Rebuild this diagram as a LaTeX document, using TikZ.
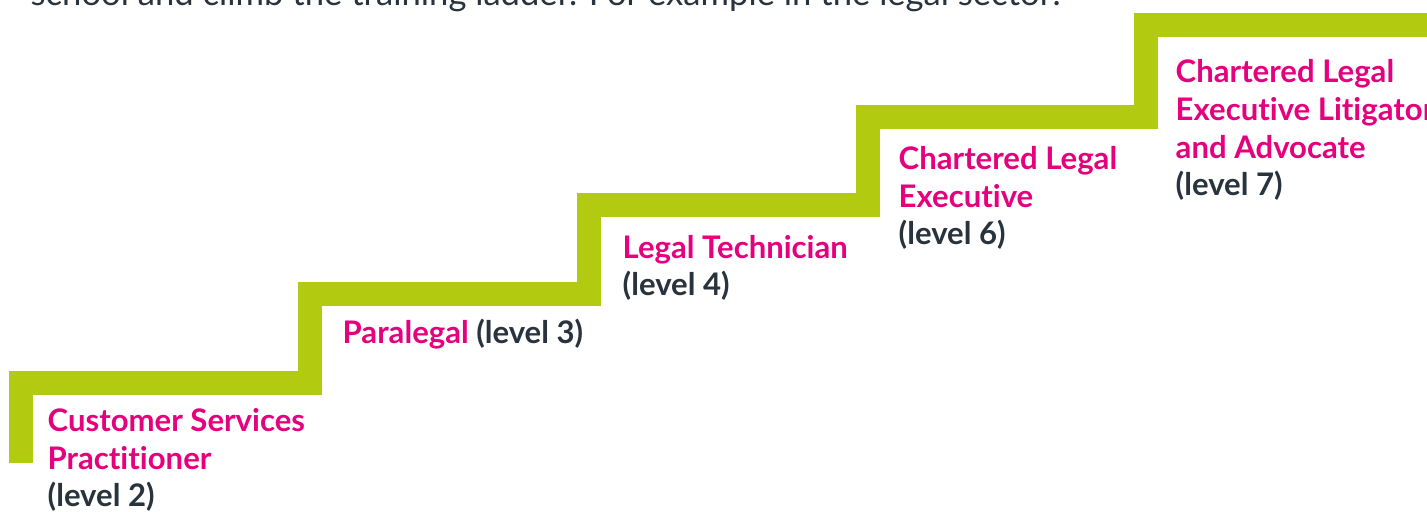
\documentclass[tikz,border=0pt]{standalone}
\usepackage{fontspec}
\setmainfont{Lato}[Ligatures=NoCommon]
\definecolor{stepgreen}{HTML}{B2CB10}
\definecolor{rolepink}{HTML}{E5007D}
\definecolor{levelgrey}{HTML}{28333E}

\begin{document}
\begin{tikzpicture}[
	role/.style={anchor=base west,align=left,inner sep=0pt,text=rolepink,
		font=\fontsize{8.85}{10.8}\selectfont\bfseries}
]
	\useasboundingbox (0, 0) rectangle (14.27, 5.12);
	\clip (0, 0) rectangle (14.27, 5.12);

	% the ladder
	\draw[line width=0.24cm,color=stepgreen,line cap=butt,line join=miter]
		(0.21, 0.49) -- ++(0, 0.80) -- ++(2.89, 0) -- ++(0, 0.89) -- ++(2.79, 0) -- ++(0, 0.89) -- ++(2.79, 0) -- ++(0, 0.88) -- ++(2.78, 0) -- ++(0, 0.92) -- ++(3, 0);

	\node[anchor=base west,inner sep=0pt,text=levelgrey,font=\fontsize{9.85}{11}\selectfont] (intro) at (0.30, 5.06)
		{school and climb the training ladder. For example in the legal sector:};

	% one node per rung (anchored on the last line)
	\node[role] (lvltwo) at (0.47, 0.05) {Customer Services\\Practitioner\\\textcolor{levelgrey}{(level 2)}};
	\node[role] (lvlthree) at (3.42, 1.68) {Paralegal \textcolor{levelgrey}{(level 3)}};
	\node[role] (lvlfour) at (6.22, 2.16) {Legal Technician\\\textcolor{levelgrey}{(level 4)}};
	\node[role] (lvlsix) at (8.98, 2.67) {Chartered Legal\\Executive\\\textcolor{levelgrey}{(level 6)}};
	\node[role] (lvlseven) at (11.75, 3.16) {Chartered Legal\\Executive Litigator\\and Advocate\\\textcolor{levelgrey}{(level 7)}};
\end{tikzpicture}
\end{document}
